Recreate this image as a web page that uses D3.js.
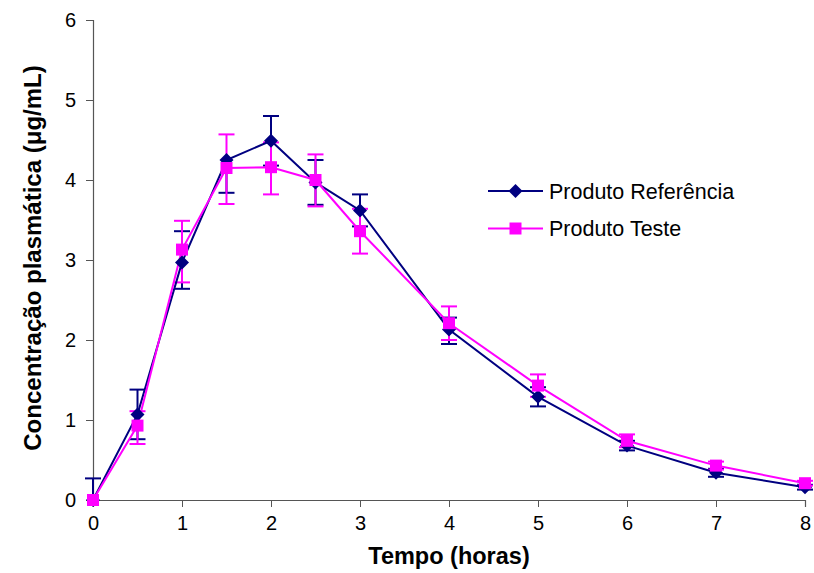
<!DOCTYPE html>
<html>
<head>
<meta charset="utf-8">
<script src="https://cdn.jsdelivr.net/npm/d3@7"></script>
<style>
  body { margin: 0; background: #fff; }
  svg { font-family: "Liberation Sans", Arial, sans-serif; }
  .axis path, .axis line { stroke: #555; }
  .axis text { fill: #000; font-size: 20px; }
</style>
</head>
<body>
<script>
var width = 814,
    height = 573;

// tempo (horas)
var tempo = [0, 0.5, 1, 1.5, 2, 2.5, 3, 4, 5, 6, 7, 8];

// Produto Referência
var referencia      = [0, 1.07, 2.97, 4.25, 4.49, 3.97, 3.62, 2.13, 1.29, 0.68, 0.34, 0.16];
var referenciaPlus  = [0.27, 0.31, 0.39, 0, 0.31, 0.28, 0.2, 0.15, 0.12, 0.06, 0.05, 0.03];
var referenciaMinus = [0, 0.31, 0.33, 0.41, 0.31, 0.28, 0.2, 0.18, 0.12, 0.06, 0.05, 0.03];

// Produto Teste
var teste      = [0, 0.93, 3.13, 4.15, 4.16, 4.0, 3.36, 2.21, 1.43, 0.74, 0.43, 0.21];
var testePlus  = [0, 0.18, 0.36, 0.42, 0.31, 0.32, 0.28, 0.21, 0.14, 0.08, 0.05, 0.03];
var testeMinus = [0, 0.23, 0.41, 0.45, 0.34, 0.33, 0.28, 0.21, 0.14, 0.08, 0.05, 0.03];

var xTicks = [0, 1, 2, 3, 4, 5, 6, 7, 8];
var yTicks = [0, 1, 2, 3, 4, 5, 6];

var series = [
  { name: "Produto Referência", color: "#000080", marker: "diamond",
    values: referencia, plus: referenciaPlus, minus: referenciaMinus },
  { name: "Produto Teste", color: "#ff00ff", marker: "square",
    values: teste, plus: testePlus, minus: testeMinus }
];

var x = d3.scaleLinear().domain([0, 8]).range([93, 805]);
var y = d3.scaleLinear().domain([0, 6]).range([500, 20]);

var svg = d3.select("body").append("svg")
    .attr("width", width)
    .attr("height", height);

svg.append("g")
    .attr("class", "axis")
    .attr("transform", "translate(0,500)")
    .call(d3.axisBottom(x).tickValues(xTicks).tickSize(7).tickPadding(9).tickFormat(d3.format("d")));

svg.append("g")
    .attr("class", "axis")
    .attr("transform", "translate(93,0)")
    .call(d3.axisLeft(y).tickValues(yTicks).tickSize(7).tickPadding(10).tickFormat(d3.format("d")));

svg.selectAll(".axis .domain").attr("stroke-width", 1.2);

function points(s) {
  return tempo.map(function(t, i) {
    return { t: t, v: s.values[i], hi: s.values[i] + s.plus[i], lo: Math.max(0, s.values[i] - s.minus[i]),
             plus: s.plus[i], minus: s.minus[i] };
  });
}

// error bars first, then lines, then markers
series.forEach(function(s) {
  var g = svg.append("g").attr("stroke", s.color).attr("stroke-width", 2).attr("fill", "none");
  points(s).forEach(function(d) {
    if (d.plus > 0) {
      g.append("line").attr("x1", x(d.t)).attr("x2", x(d.t)).attr("y1", y(d.v)).attr("y2", y(d.hi));
      g.append("line").attr("x1", x(d.t) - 8).attr("x2", x(d.t) + 8).attr("y1", y(d.hi)).attr("y2", y(d.hi));
    }
    if (d.minus > 0) {
      g.append("line").attr("x1", x(d.t)).attr("x2", x(d.t)).attr("y1", y(d.v)).attr("y2", y(d.lo));
      g.append("line").attr("x1", x(d.t) - 8).attr("x2", x(d.t) + 8).attr("y1", y(d.lo)).attr("y2", y(d.lo));
    }
  });
});

var line = d3.line()
    .x(function(d) { return x(d.t); })
    .y(function(d) { return y(d.v); });

series.forEach(function(s) {
  svg.append("path")
      .datum(points(s))
      .attr("fill", "none")
      .attr("stroke", s.color)
      .attr("stroke-width", 2)
      .attr("d", line);
});

var diamond = "M0,-7L7,0L0,7L-7,0Z",
    square = "M-6,-6L6,-6L6,6L-6,6Z";

series.forEach(function(s) {
  svg.append("g").selectAll("path")
      .data(points(s))
    .enter().append("path")
      .attr("d", s.marker == "diamond" ? diamond : square)
      .attr("fill", s.color)
      .attr("transform", function(d) { return "translate(" + x(d.t) + "," + y(d.v) + ")"; });
});

// legend
var legend = svg.append("g");
series.forEach(function(s, i) {
  var ly = 191 + i * 37.5;
  legend.append("line")
      .attr("x1", 488).attr("x2", 543).attr("y1", ly).attr("y2", ly)
      .attr("stroke", s.color).attr("stroke-width", 2);
  legend.append("path")
      .attr("d", s.marker == "diamond" ? diamond : square)
      .attr("fill", s.color)
      .attr("transform", "translate(515.5," + ly + ")");
  legend.append("text")
      .attr("x", 549).attr("y", ly)
      .attr("dy", "0.35em")
      .style("font-size", "21.5px")
      .text(s.name);
});

// axis titles
svg.append("text")
    .attr("x", 449).attr("y", 564)
    .attr("text-anchor", "middle")
    .style("font-size", "23.5px")
    .style("font-weight", "bold")
    .text("Tempo (horas)");

svg.append("text")
    .attr("transform", "translate(41,258) rotate(-90)")
    .attr("text-anchor", "middle")
    .style("font-size", "24px")
    .style("font-weight", "bold")
    .text("Concentração plasmática (μg/mL)");
</script>
</body>
</html>
